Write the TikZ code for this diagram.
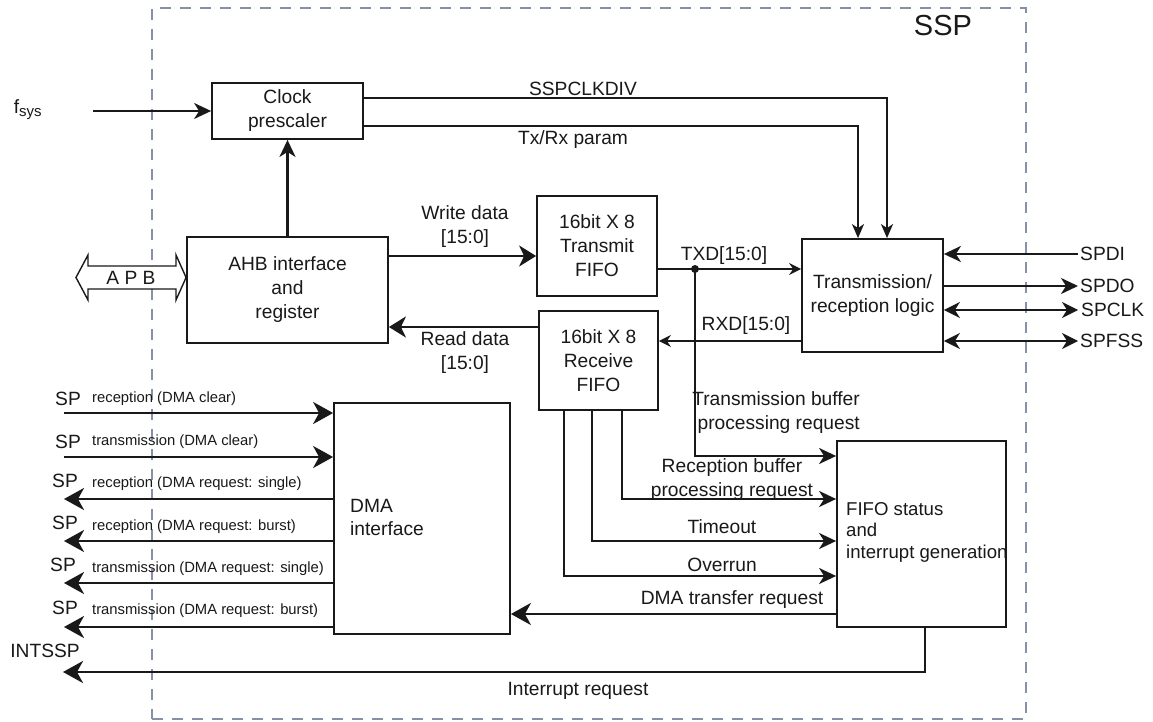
\documentclass[tikz,border=0pt]{standalone}
\usepackage{fontspec}
\setmainfont{Liberation Sans}
\usetikzlibrary{arrows.meta,calc}
\newcommand\mainf{\fontsize{19.2}{24}\selectfont}
\newcommand\smallf{\fontsize{14.8}{17}\selectfont}
\newcommand\sspf{\fontsize{29}{34}\selectfont}
\definecolor{frame}{RGB}{135,145,165}
\definecolor{ink}{RGB}{25,25,25}
\begin{document}
\begin{tikzpicture}[x=1pt,y=-1pt,
  box/.style={draw=ink, line width=1.8pt, inner sep=0pt, align=center, font=\mainf, text=ink},
  lbl/.style={inner sep=0pt, align=center, font=\mainf, text=ink},
  slbl/.style={inner sep=0pt, anchor=west, font=\smallf, text=ink},
  bigarrow/.style={draw=ink, line width=2.5pt, -{Stealth[length=20pt,width=22pt,inset=6pt]}},
  midarrow/.style={draw=ink, line width=2.2pt, -{Stealth[length=17pt,width=16pt,inset=5pt]}},
  toparrow/.style={draw=ink, line width=2pt, -{Stealth[length=14pt,width=12pt,inset=4pt]}},
  smallarrow/.style={draw=ink, line width=1.5pt, -{Stealth[length=12pt,width=12pt,inset=4pt]}},
  bothmid/.style={draw=ink, line width=2.2pt, {Stealth[length=16pt,width=16pt,inset=5pt]}-{Stealth[length=16pt,width=16pt,inset=5pt]}},
]
\useasboundingbox (0,0) rectangle (1153,722);
\fill[white] (0,0) rectangle (1153,722);

% SSP frame
\node[draw=frame, line width=2.4pt, dash pattern=on 11pt off 9pt, minimum width=874pt, minimum height=711pt, inner sep=0pt] (sspframe) at (589,363.5) {};
\node[inner sep=0pt, font=\sspf, text=ink] (ssptxt) at (943,26) {SSP};

% blocks
\node[box, minimum width=151pt, minimum height=56pt] (clk) at (287.5,111) {Clock\\prescaler};
\node[box, minimum width=201pt, minimum height=106pt] (ahb) at (287.5,290) {AHB interface\\and\\register};
\node[box, minimum width=120pt, minimum height=100pt] (txf) at (597,246) {16bit X 8\\Transmit\\FIFO};
\node[box, minimum width=119pt, minimum height=99pt] (rxf) at (598.5,360.5) {16bit X 8\\Receive\\FIFO};
\node[box, minimum width=141pt, minimum height=113pt] (trl) at (872.5,295.5) {Transmission/\\reception logic};
\node[box, minimum width=169pt, minimum height=186pt] (fifo) at (921.5,534) {};
\node[lbl, anchor=west, align=left, font=\fontsize{18.6}{21.5}\selectfont] (fifot) at (846,532) {FIFO status\\and\\interrupt generation};
\node[box, minimum width=176pt, minimum height=231pt] (dma) at (422,518.5) {};
\node[lbl, anchor=west, align=left, font=\fontsize{19.2}{23}\selectfont] (dmat) at (350,517) {DMA\\interface};

% f_sys
\node[lbl] (fsys) at (28,110) {f\textsubscript{\fontsize{15}{17}\selectfont sys}};
\coordinate (fin) at (93,111);
\draw[midarrow, line width=1.6pt] (fin) -- (clk.west);

% AHB -> clock
\draw[midarrow] (ahb.north) -- (clk.south);

% SSPCLKDIV and Tx/Rx param
\coordinate (c1) at (887,98);
\coordinate (c2) at (858,126);
\draw[toparrow] (clk.east |- c1) -| (trl.north -| c1);
\draw[toparrow] (clk.east |- c2) -| (trl.north -| c2);
\node[lbl] (sspclkdiv) at (583,89) {SSPCLKDIV};
\node[lbl] (txrx) at (573,140) {Tx/Rx param};

% APB bus
\draw[draw=ink, line width=1.4pt, fill=white] (76,277.5) -- (88,255) -- (88,266) -- (176,266) -- (176,255) -- (ahb.west |- 0,277.5) -- (176,300) -- (176,289) -- (88,289) -- (88,300) -- cycle;
\node[lbl] (apbt) at (131,278) {A P B};

% write / read data
\coordinate (yW) at (0,256);
\coordinate (yR) at (0,327);
\draw[bigarrow, -{Stealth[length=17pt,width=21pt,inset=5pt]}] (ahb.east |- yW) -- (txf.west |- yW);
\draw[bigarrow, -{Stealth[length=17pt,width=21pt,inset=5pt]}] (rxf.west |- yR) -- (ahb.east |- yR);
\node[lbl] (wlbl) at (465,227) {Write data\\ {[15:0]}};
\node[lbl] (rlbl) at (465,353) {Read data\\ {[15:0]}};

% TXD / RXD
\coordinate (yT) at (0,269);
\coordinate (yX) at (0,341);
\coordinate (tdot) at (695,269);
\draw[smallarrow] (txf.east |- yT) -- (trl.west |- yT);
\draw[smallarrow] (trl.west |- yX) -- (rxf.east |- yX);
\fill[ink] (tdot) circle (4pt);
\node[lbl] (txd) at (724,256) {TXD[15:0]};
\node[lbl] (rxd) at (746,326) {RXD[15:0]};

% right side signals
\coordinate (R1) at (1078,254);
\coordinate (R2) at (1078,286);
\coordinate (R3) at (1078,310);
\coordinate (R4) at (1078,341);
\draw[midarrow] (R1) -- (trl.east |- R1);
\draw[midarrow] (trl.east |- R2) -- (R2);
\draw[bothmid] (trl.east |- R3) -- (R3);
\draw[bothmid] (trl.east |- R4) -- (R4);
\node[lbl, anchor=west] (spdi) at (1080,254) {SPDI};
\node[lbl, anchor=west] (spdo) at (1080,286) {SPDO};
\node[lbl, anchor=west] (spclk) at (1081,310) {SPCLK};
\node[lbl, anchor=west] (spfss) at (1080,341) {SPFSS};

% FIFO status inputs
\coordinate (tb) at (695,456);
\coordinate (r1) at (622,499);
\coordinate (r2) at (592,541);
\coordinate (r3) at (564,576);
\draw[midarrow] (tdot) |- (fifo.west |- tb);
\draw[midarrow] (rxf.south -| r1) |- (fifo.west |- r1);
\draw[midarrow] (rxf.south -| r2) |- (fifo.west |- r2);
\draw[midarrow] (rxf.south -| r3) |- (fifo.west |- r3);
\node[lbl, anchor=east, align=right] (tblbl) at (860,413) {Transmission buffer\\processing request};
\node[lbl] (rblbl) at (732,480) {Reception buffer\\processing request};
\node[lbl] (tolbl) at (722,527) {Timeout};
\node[lbl] (ovlbl) at (722,565) {Overrun};

% DMA transfer request
\coordinate (yD) at (0,614);
\draw[bigarrow] (fifo.west |- yD) -- (dma.east |- yD);
\node[lbl] (dtlbl) at (732,600) {DMA transfer request};

% Interrupt
\coordinate (iq) at (925,672);
\coordinate (intend) at (63,672);
\draw[bigarrow] (fifo.south -| iq) |- (intend);
\node[lbl] (irlbl) at (578,691) {Interrupt request};
\node[lbl] (intssp) at (45,651) {INTSSP};

% DMA side signals
\coordinate (L1) at (64,413);
\coordinate (L2) at (64,457);
\coordinate (L3) at (64,499);
\coordinate (L4) at (64,541);
\coordinate (L5) at (64,583);
\coordinate (L6) at (64,627);
\draw[bigarrow] (L1) -- (dma.west |- L1);
\draw[bigarrow] (L2) -- (dma.west |- L2);
\draw[bigarrow] (dma.west |- L3) -- (L3);
\draw[bigarrow] (dma.west |- L4) -- (L4);
\draw[bigarrow] (dma.west |- L5) -- (L5);
\draw[bigarrow] (dma.west |- L6) -- (L6);
\node[lbl] (sp1) at (68,399) {SP};
\node[lbl] (sp2) at (68,442) {SP};
\node[lbl] (sp3) at (65,481) {SP};
\node[lbl] (sp4) at (65,523) {SP};
\node[lbl] (sp5) at (63,565) {SP};
\node[lbl] (sp6) at (65,608) {SP};
\node[slbl] (t1) at (92,399) {reception (DMA clear)};
\node[slbl] (t2) at (92,442) {transmission (DMA clear)};
\node[slbl] (t3) at (92,484) {reception (DMA request: single)};
\node[slbl] (t4) at (92,527) {reception (DMA request: burst)};
\node[slbl] (t5) at (92,569) {transmission (DMA request: single)};
\node[slbl] (t6) at (92,611) {transmission (DMA request: burst)};
\end{tikzpicture}
\end{document}
